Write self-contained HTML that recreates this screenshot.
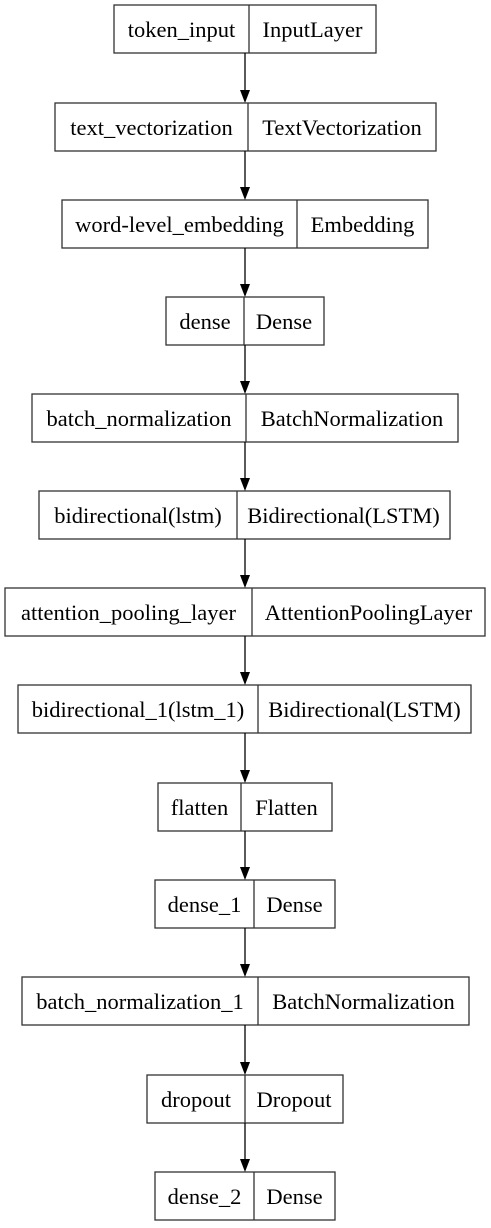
<!DOCTYPE html>
<html><head><style>body{margin:0;background:#fff}svg{display:block}</style></head><body>
<svg width="491" height="1228" xmlns="http://www.w3.org/2000/svg" font-family="Liberation Serif, serif" font-size="22.5">
<g fill="none" stroke="#333" stroke-width="1.3">
<rect x="114" y="5" width="262" height="48"/><line x1="249" y1="5" x2="249" y2="53"/>
<rect x="55" y="103" width="381" height="48"/><line x1="248" y1="103" x2="248" y2="151"/>
<rect x="62" y="200" width="366" height="48"/><line x1="297" y1="200" x2="297" y2="248"/>
<rect x="166" y="297" width="158" height="48"/><line x1="244" y1="297" x2="244" y2="345"/>
<rect x="32" y="394" width="426" height="48"/><line x1="246" y1="394" x2="246" y2="442"/>
<rect x="39" y="491" width="411" height="48"/><line x1="237" y1="491" x2="237" y2="539"/>
<rect x="5" y="588" width="480" height="48"/><line x1="252" y1="588" x2="252" y2="636"/>
<rect x="18" y="685" width="453" height="48"/><line x1="258" y1="685" x2="258" y2="733"/>
<rect x="158" y="783" width="174" height="48"/><line x1="241" y1="783" x2="241" y2="831"/>
<rect x="155" y="880" width="180" height="48"/><line x1="254" y1="880" x2="254" y2="928"/>
<rect x="22" y="977" width="447" height="48"/><line x1="258" y1="977" x2="258" y2="1025"/>
<rect x="147" y="1075" width="196" height="48"/><line x1="245" y1="1075" x2="245" y2="1123"/>
<rect x="155" y="1172" width="180" height="48"/><line x1="254" y1="1172" x2="254" y2="1220"/>
</g>
<g stroke="#000" stroke-width="1.3">
<line x1="245" y1="53" x2="245" y2="91"/>
<line x1="245" y1="151" x2="245" y2="188"/>
<line x1="245" y1="248" x2="245" y2="285"/>
<line x1="245" y1="345" x2="245" y2="382"/>
<line x1="245" y1="442" x2="245" y2="479"/>
<line x1="245" y1="539" x2="245" y2="576"/>
<line x1="245" y1="636" x2="245" y2="673"/>
<line x1="245" y1="733" x2="245" y2="771"/>
<line x1="245" y1="831" x2="245" y2="868"/>
<line x1="245" y1="928" x2="245" y2="965"/>
<line x1="245" y1="1025" x2="245" y2="1063"/>
<line x1="245" y1="1123" x2="245" y2="1160"/>
</g>
<g fill="#000">
<polygon points="240,90 250,90 245,103"/>
<polygon points="240,187 250,187 245,200"/>
<polygon points="240,284 250,284 245,297"/>
<polygon points="240,381 250,381 245,394"/>
<polygon points="240,478 250,478 245,491"/>
<polygon points="240,575 250,575 245,588"/>
<polygon points="240,672 250,672 245,685"/>
<polygon points="240,770 250,770 245,783"/>
<polygon points="240,867 250,867 245,880"/>
<polygon points="240,964 250,964 245,977"/>
<polygon points="240,1062 250,1062 245,1075"/>
<polygon points="240,1159 250,1159 245,1172"/>
</g>
<g fill="#000" text-anchor="middle">
<text x="181.5" y="37">token_input</text><text x="312.5" y="37">InputLayer</text>
<text x="151.5" y="135">text_vectorization</text><text x="342" y="135">TextVectorization</text>
<text x="179.5" y="232">word-level_embedding</text><text x="362.5" y="232">Embedding</text>
<text x="205" y="329">dense</text><text x="284" y="329">Dense</text>
<text x="139" y="426">batch_normalization</text><text x="352" y="426">BatchNormalization</text>
<text x="138" y="523">bidirectional(lstm)</text><text x="343.5" y="523">Bidirectional(LSTM)</text>
<text x="128.5" y="620">attention_pooling_layer</text><text x="368.5" y="620">AttentionPoolingLayer</text>
<text x="138" y="717">bidirectional_1(lstm_1)</text><text x="364.5" y="717">Bidirectional(LSTM)</text>
<text x="199.5" y="815">flatten</text><text x="286.5" y="815">Flatten</text>
<text x="204.5" y="912">dense_1</text><text x="294.5" y="912">Dense</text>
<text x="140" y="1009">batch_normalization_1</text><text x="363.5" y="1009">BatchNormalization</text>
<text x="196" y="1107">dropout</text><text x="294" y="1107">Dropout</text>
<text x="204.5" y="1204">dense_2</text><text x="294.5" y="1204">Dense</text>
</g>
</svg>
</body></html>
